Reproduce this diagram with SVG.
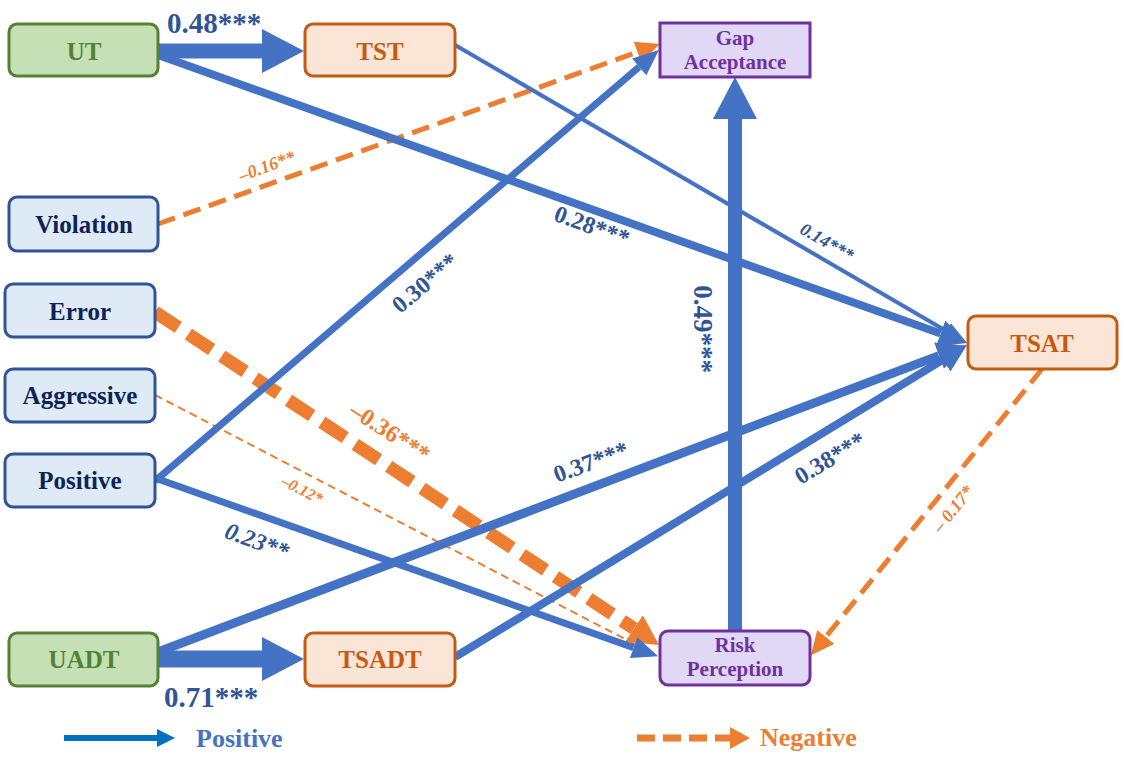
<svg xmlns="http://www.w3.org/2000/svg" width="1124" height="759" viewBox="0 0 1124 759">
<style>
text{font-family:"Liberation Serif","Times New Roman",serif;font-weight:bold;text-anchor:middle}
.node rect{stroke-width:3}
.g rect{fill:#c5e0b4;stroke:#548235}
.g text{fill:#548235;font-size:25px}
.o rect{fill:#fbe5d6;stroke:#c55a11}
.o text{fill:#c55a11;font-size:25px}
.b rect{fill:#deebf7;stroke:#2f5597}
.b text{fill:#0e2355;font-size:25px}
.p rect{fill:#e0d8f4;stroke:#7030a0}
.p text{fill:#7030a0;font-size:21px}
.bl{stroke:#4472c4;fill:none}
.ol{stroke:#ed7d31;fill:none}
.lb{fill:#2f5597}
.lo{fill:#ed7d31}
.it{font-style:italic}
</style>
<defs>
<marker id="bBig" viewBox="0 0 42 44" refX="0" refY="22" markerWidth="42" markerHeight="44" markerUnits="userSpaceOnUse" orient="auto"><path d="M0,0 L42,22 L0,44 Z" fill="#4472c4"/></marker>
<marker id="bMed" viewBox="0 0 28 28" refX="0" refY="14" markerWidth="28" markerHeight="28" markerUnits="userSpaceOnUse" orient="auto"><path d="M0,0 L28,14 L0,28 Z" fill="#4472c4"/></marker>
<marker id="bSm" viewBox="0 0 26 22" refX="0" refY="11" markerWidth="26" markerHeight="22" markerUnits="userSpaceOnUse" orient="auto"><path d="M0,0 L26,11 L0,22 Z" fill="#4472c4"/></marker>
<marker id="bThin" viewBox="0 0 24 18" refX="0" refY="9" markerWidth="24" markerHeight="18" markerUnits="userSpaceOnUse" orient="auto"><path d="M0,0 L24,9 L0,18 Z" fill="#4472c4"/></marker>
<marker id="oMed" viewBox="0 0 24 22" refX="0" refY="11" markerWidth="24" markerHeight="22" markerUnits="userSpaceOnUse" orient="auto"><path d="M0,0 L24,11 L0,22 Z" fill="#ed7d31"/></marker>
<marker id="oBig" viewBox="0 0 30 32" refX="0" refY="16" markerWidth="30" markerHeight="32" markerUnits="userSpaceOnUse" orient="auto"><path d="M0,0 L30,16 L0,32 Z" fill="#ed7d31"/></marker>
<marker id="oThin" viewBox="0 0 14 10" refX="0" refY="5" markerWidth="14" markerHeight="10" markerUnits="userSpaceOnUse" orient="auto"><path d="M0,0 L14,5 L0,10 Z" fill="#ed7d31"/></marker>
<marker id="lgB" viewBox="0 0 18 18" refX="0" refY="9" markerWidth="18" markerHeight="18" markerUnits="userSpaceOnUse" orient="auto"><path d="M0,0 L18,9 L0,18 Z" fill="#0070c0"/></marker>
<marker id="lgO" viewBox="0 0 20 22" refX="0" refY="11" markerWidth="20" markerHeight="22" markerUnits="userSpaceOnUse" orient="auto"><path d="M0,0 L20,11 L0,22 Z" fill="#ed7d31"/></marker>
</defs>
<rect width="1124" height="759" fill="#ffffff"/>

<g id="connectors">
  <line class="ol" x1="158" y1="224" x2="637.4" y2="52.1" stroke-width="5" stroke-dasharray="18 9" marker-end="url(#oMed)"/>
  <line class="ol" x1="155" y1="395" x2="637.6" y2="645.5" stroke-width="2" stroke-dasharray="8 5" marker-end="url(#oThin)"/>
  <line class="ol" x1="155" y1="312" x2="634" y2="628.5" stroke-width="13" stroke-dasharray="28 12" marker-end="url(#oBig)"/>
  <line class="ol" x1="1042" y1="369" x2="825.8" y2="636.9" stroke-width="5" stroke-dasharray="18 9" marker-end="url(#oMed)"/>
  <line class="bl" x1="158" y1="51" x2="262" y2="51" stroke-width="15" marker-end="url(#bBig)"/>
  <line class="bl" x1="158" y1="55" x2="940.6" y2="333.6" stroke-width="8" marker-end="url(#bMed)"/>
  <line class="bl" x1="455" y1="45" x2="946.3" y2="330.9" stroke-width="4" marker-end="url(#bThin)"/>
  <line class="bl" x1="155" y1="481" x2="639.2" y2="66.9" stroke-width="7" marker-end="url(#bSm)"/>
  <line class="bl" x1="155" y1="478" x2="633.6" y2="647.6" stroke-width="7" marker-end="url(#bSm)"/>
  <line class="bl" x1="158" y1="659" x2="262" y2="659" stroke-width="17" marker-end="url(#bBig)"/>
  <line class="bl" x1="158" y1="652" x2="939" y2="355.6" stroke-width="9" marker-end="url(#bMed)"/>
  <line class="bl" x1="455" y1="657" x2="943.1" y2="359.6" stroke-width="8" marker-end="url(#bMed)"/>
  <line class="bl" x1="735" y1="631" x2="735" y2="119" stroke-width="14" marker-end="url(#bBig)"/>
</g>

<g id="labels">
  <text class="lb" x="214" y="33" font-size="29">0.48***</text>
  <text class="lb" x="211" y="707" font-size="29">0.71***</text>
  <text class="lb" transform="translate(592,226) rotate(20)" y="8" font-size="24">0.28***</text>
  <text class="lb" transform="translate(425,283) rotate(-40)" y="8" font-size="24">0.30***</text>
  <text class="lb" transform="translate(591,462) rotate(-20)" y="8" font-size="24">0.37***</text>
  <text class="lb" transform="translate(830,458) rotate(-31)" y="8" font-size="24">0.38***</text>
  <text class="lb" transform="translate(703,329) rotate(90)" y="9" font-size="27">0.49***</text>
  <text class="lb it" transform="translate(257,541) rotate(20)" y="8" font-size="24">0.23**</text>
  <text class="lb it" transform="translate(827,242) rotate(30)" y="6" font-size="18">0.14***</text>
  <text class="lo" transform="translate(390,432) rotate(33)" y="8" font-size="24">–0.36***</text>
  <text class="lo it" transform="translate(302,490) rotate(27)" y="5" font-size="16">–0.12*</text>
  <text class="lo it" transform="translate(267,166) rotate(-20)" y="6" font-size="18">–0.16**</text>
  <text class="lo it" transform="translate(953,509) rotate(-51)" y="6" font-size="18">– 0.17*</text>
</g>

<g id="node-UT" class="node g"><rect x="9" y="24" width="149" height="52" rx="8"/><text x="84" y="60">UT</text></g>
<g id="node-TST" class="node o"><rect x="305" y="24" width="150" height="52" rx="8"/><text x="380" y="60">TST</text></g>
<g id="node-GapAcceptance" class="node p"><rect x="660" y="23" width="150" height="54"/><text x="735" y="45">Gap</text><text x="735" y="69">Acceptance</text></g>
<g id="node-Violation" class="node b"><rect x="9" y="197" width="149" height="54" rx="8"/><text x="84" y="233">Violation</text></g>
<g id="node-Error" class="node b"><rect x="5" y="284" width="150" height="53" rx="8"/><text x="80" y="320">Error</text></g>
<g id="node-Aggressive" class="node b"><rect x="5" y="369" width="150" height="53" rx="8"/><text x="80" y="404">Aggressive</text></g>
<g id="node-Positive" class="node b"><rect x="5" y="454" width="150" height="53" rx="8"/><text x="80" y="489">Positive</text></g>
<g id="node-TSAT" class="node o"><rect x="968" y="316" width="149" height="53" rx="8"/><text x="1042" y="352">TSAT</text></g>
<g id="node-UADT" class="node g"><rect x="9" y="633" width="149" height="53" rx="8"/><text x="84" y="668">UADT</text></g>
<g id="node-TSADT" class="node o"><rect x="305" y="633" width="150" height="53" rx="8"/><text x="380" y="668">TSADT</text></g>
<g id="node-RiskPerception" class="node p"><rect x="660" y="631" width="150" height="54" rx="8"/><text x="735" y="652">Risk</text><text x="735" y="676">Perception</text></g>

<g id="legend">
  <line x1="64" y1="738" x2="157" y2="738" stroke="#0070c0" stroke-width="6" marker-end="url(#lgB)"/>
  <text x="196" y="747" font-size="26" fill="#4472c4" style="text-anchor:start">Positive</text>
  <line x1="637" y1="738" x2="730" y2="738" stroke="#ed7d31" stroke-width="7" stroke-dasharray="18 8" marker-end="url(#lgO)"/>
  <text x="760" y="746" font-size="26" fill="#ed7d31" style="text-anchor:start">Negative</text>
</g>
</svg>
